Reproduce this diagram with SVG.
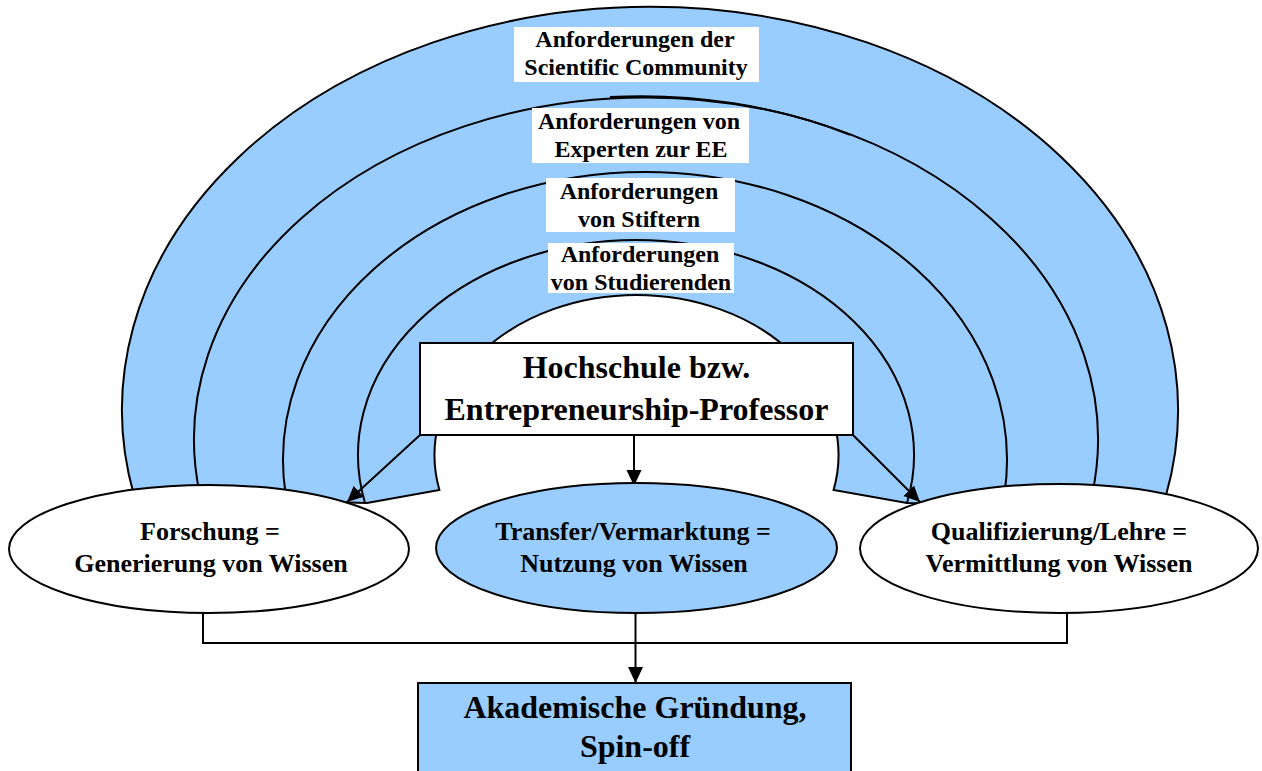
<svg xmlns="http://www.w3.org/2000/svg" width="1262" height="771" viewBox="0 0 1262 771">
<style>
.b{fill:#99CCFF}
.ln{fill:none;stroke:#000;stroke-width:2}
.node{stroke:#000;stroke-width:2}
.t{font-family:"Liberation Serif","Times New Roman",serif;font-weight:bold;fill:#000;text-anchor:middle}
.s24{font-size:24px}
.s26{font-size:26px}
.s32{font-size:32px}
.lbl{fill:#fff}
</style>
<defs>
<marker id="ah" markerUnits="userSpaceOnUse" markerWidth="16" markerHeight="16" refX="16" refY="7.5" orient="auto">
<path d="M0,0 L16,7.5 L0,15 Z" fill="#000"/>
</marker>
</defs>
<rect width="1262" height="771" fill="#fff"/>
<g id="arches">
<path class="b" d="M134.2,496 A528 403 0 1 1 1165.8,496 L1000,505 L907,503 L833.6,490 A202 160 0 1 0 439.4,490 L367,503 L250,500 Z" stroke="#000" stroke-width="2"/>
<path class="ln" d="M200,495 A452 342 0 1 1 1092,495"/>
<path class="ln" d="M610,97 A452 342 0 0 1 850,134.8" stroke-width="1.5"/>
<path class="ln" d="M285.7,495 A362 288 0 1 1 1004.3,495"/>
<path class="ln" d="M365,503 A278 215 0 1 1 907,503"/>
</g>
<g id="label-scientific">
<rect class="lbl" x="514" y="27" width="245" height="55"/>
<text class="t s24" x="635" y="47">Anforderungen der</text>
<text class="t s24" x="636" y="75">Scientific Community</text>
</g>
<g id="label-experten">
<rect class="lbl" x="532" y="108" width="217" height="55"/>
<text class="t s24" x="639" y="129">Anforderungen von</text>
<text class="t s24" x="641" y="157">Experten zur EE</text>
</g>
<g id="label-stifter">
<rect class="lbl" x="546" y="178" width="189" height="54"/>
<text class="t s24" x="639" y="199">Anforderungen</text>
<text class="t s24" x="639" y="227">von Stiftern</text>
</g>
<g id="label-studierende">
<rect class="lbl" x="548" y="243" width="186" height="50"/>
<text class="t s24" x="640" y="262">Anforderungen</text>
<text class="t s24" x="641" y="290">von Studierenden</text>
</g>
<g id="connectors">
<line class="ln" x1="420" y1="435" x2="347" y2="502" stroke-width="2.5" marker-end="url(#ah)"/>
<line class="ln" x1="634" y1="435" x2="634" y2="486" stroke-width="2.5" marker-end="url(#ah)"/>
<line class="ln" x1="853" y1="435" x2="920" y2="502" stroke-width="2.5" marker-end="url(#ah)"/>
<polyline class="ln" points="203,613 203,643 1067,643 1067,613"/>
<line class="ln" x1="635.5" y1="613" x2="635.5" y2="683" marker-end="url(#ah)"/>
</g>
<g id="hochschule">
<rect class="node" x="420" y="343" width="433" height="92" fill="#fff"/>
<text class="t s32" x="636.5" y="378">Hochschule bzw.</text>
<text class="t s32" x="636.5" y="420">Entrepreneurship-Professor</text>
</g>
<g id="forschung">
<ellipse class="node" cx="209" cy="549" rx="200" ry="64" fill="#fff"/>
<text class="t s26" x="210" y="540">Forschung =</text>
<text class="t s26" x="211" y="572">Generierung von Wissen</text>
</g>
<g id="transfer">
<ellipse class="node b" cx="636.5" cy="548" rx="200.5" ry="65"/>
<text class="t s26" x="633" y="540">Transfer/Vermarktung =</text>
<text class="t s26" x="634" y="572">Nutzung von Wissen</text>
</g>
<g id="qualifizierung">
<ellipse class="node" cx="1059" cy="548.5" rx="199" ry="64.5" fill="#fff"/>
<text class="t s26" x="1059" y="540">Qualifizierung/Lehre =</text>
<text class="t s26" x="1059" y="572">Vermittlung von Wissen</text>
</g>
<g id="gruendung">
<rect class="node b" x="418" y="683" width="433" height="100"/>
<text class="t s32" x="635" y="718">Akademische Gründung,</text>
<text class="t s32" x="635" y="757">Spin-off</text>
</g>
</svg>
